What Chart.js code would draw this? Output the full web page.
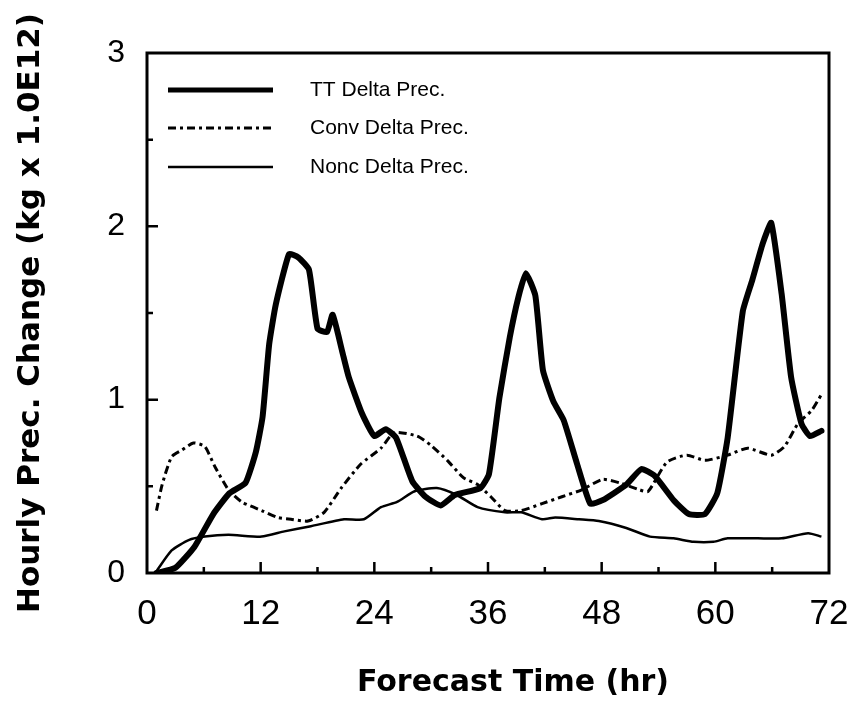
<!DOCTYPE html>
<html>
<head>
<meta charset="utf-8">
<script src="https://cdn.jsdelivr.net/npm/chart.js@4"></script>
<style>
  html, body { margin: 0; padding: 0; background: #fff; }
  canvas { display: block; }
</style>
</head>
<body>
<canvas id="c" width="854" height="702"></canvas>
<script>
// hours / values
const ttHours = [1, 3, 5, 7, 8.7, 10.4, 11.5, 12.2, 12.9, 13.6, 15, 16, 17.1, 18, 19, 19.6, 20.6, 21.3, 22.7, 24, 25.2, 26.3, 28, 29.4, 31, 32.5, 35.2, 36.1, 37.2, 38.3, 39.2, 40, 41, 41.8, 42.9, 44, 45.4, 46.8, 48.1, 50.6, 52.2, 53.6, 55.6, 57.2, 58.9, 60.2, 61.3, 62.9, 63.9, 65, 65.9, 67, 68, 69.1, 70, 71.2];
const ttValues = [0, 0.03, 0.15, 0.34, 0.46, 0.52, 0.70, 0.90, 1.32, 1.55, 1.84, 1.82, 1.75, 1.41, 1.39, 1.49, 1.28, 1.13, 0.92, 0.79, 0.83, 0.78, 0.53, 0.44, 0.39, 0.45, 0.49, 0.57, 1.01, 1.36, 1.59, 1.73, 1.60, 1.17, 0.99, 0.88, 0.63, 0.40, 0.42, 0.51, 0.60, 0.56, 0.42, 0.34, 0.34, 0.46, 0.78, 1.51, 1.69, 1.90, 2.02, 1.61, 1.13, 0.86, 0.79, 0.82];

const convHours = [1, 1.6, 2.6, 3.7, 4.9, 6.1, 7.2, 8.6, 10, 12.1, 13.8, 15.2, 17, 18.7, 20.5, 22.6, 24.7, 26.1, 28.5, 29.9, 31.7, 33.4, 34.9, 36.3, 37.8, 39.5, 41.7, 43.8, 45.9, 48.1, 49.9, 52, 52.9, 54.9, 57, 58.9, 61.3, 63.4, 65.9, 67.3, 68.7, 70.2, 71.2];
const convValues = [0.36, 0.51, 0.67, 0.71, 0.75, 0.73, 0.61, 0.48, 0.41, 0.36, 0.32, 0.31, 0.30, 0.35, 0.49, 0.63, 0.72, 0.81, 0.79, 0.74, 0.65, 0.55, 0.51, 0.44, 0.36, 0.36, 0.40, 0.44, 0.48, 0.54, 0.52, 0.48, 0.47, 0.64, 0.68, 0.65, 0.68, 0.72, 0.68, 0.73, 0.86, 0.94, 1.03];

const noncHours = [1, 2.6, 4.4, 6.1, 8.6, 12.1, 14.5, 17.3, 20.8, 22.9, 24.7, 26.4, 28.2, 30.6, 32.7, 34.9, 37.8, 39.5, 41.7, 43.1, 45.6, 47.7, 50.6, 53.1, 55.6, 57.7, 59.8, 61.3, 64.5, 67, 69.8, 71.2];
const noncValues = [0.01, 0.13, 0.19, 0.21, 0.22, 0.21, 0.24, 0.27, 0.31, 0.31, 0.38, 0.41, 0.47, 0.49, 0.45, 0.38, 0.35, 0.35, 0.31, 0.32, 0.31, 0.30, 0.26, 0.21, 0.20, 0.18, 0.18, 0.20, 0.20, 0.20, 0.23, 0.21];

const seriesNames = ['TT Delta Prec.', 'Conv Delta Prec.', 'Nonc Delta Prec.'];
const xTicks = [0, 12, 24, 36, 48, 60, 72];
const yTicks = [0, 1, 2, 3];

const FONT = '"Liberation Sans", Arial, Helvetica, sans-serif';
const TITLE_FONT = '"DejaVu Sans", Verdana, sans-serif';
const pts = (hs, vs) => hs.map((h, i) => ({ x: h, y: vs[i] }));

// frame, inward ticks, legend and x title
const decor = {
  id: 'decor',
  afterDraw(chart) {
    const ctx = chart.ctx;
    const a = chart.chartArea;
    const xs = chart.scales.x, ys = chart.scales.y;
    ctx.save();
    ctx.strokeStyle = '#000';
    ctx.lineWidth = 3;
    ctx.strokeRect(a.left, a.top, a.right - a.left, a.bottom - a.top);

    ctx.lineWidth = 2.5;
    ctx.beginPath();
    for (let h = 6; h < 72; h += 6) {
      const px = xs.getPixelForValue(h);
      const len = h % 12 === 0 ? 11 : 6;
      ctx.moveTo(px, a.bottom);
      ctx.lineTo(px, a.bottom - len);
    }
    for (let v = 0.5; v < 3; v += 0.5) {
      const py = ys.getPixelForValue(v);
      const len = v % 1 === 0 ? 11 : 6;
      ctx.moveTo(a.left, py);
      ctx.lineTo(a.left + len, py);
    }
    ctx.stroke();

    // legend
    const rows = [90, 128, 167];
    chart.data.datasets.forEach((ds, i) => {
      ctx.lineWidth = i === 0 ? 5 : ds.borderWidth;
      ctx.setLineDash(ds.borderDash || []);
      ctx.beginPath();
      ctx.moveTo(168, rows[i]);
      ctx.lineTo(273, rows[i]);
      ctx.stroke();
      ctx.setLineDash([]);
      ctx.fillStyle = '#000';
      ctx.font = '21px ' + FONT;
      ctx.textBaseline = 'middle';
      ctx.textAlign = 'left';
      ctx.fillText(ds.label, 310, rows[i]);
    });

    ctx.font = 'bold 30px ' + TITLE_FONT;
    ctx.textAlign = 'center';
    ctx.textBaseline = 'middle';
    ctx.fillText('Forecast Time (hr)', 513, 683);
    ctx.restore();
  }
};

new Chart(document.getElementById('c'), {
  type: 'line',
  data: {
    datasets: [
      { label: seriesNames[0], data: pts(ttHours, ttValues), borderColor: '#000', borderWidth: 6, pointRadius: 0, tension: 0.15, borderJoinStyle: 'round', borderCapStyle: 'round' },
      { label: seriesNames[1], data: pts(convHours, convValues), borderColor: '#000', borderWidth: 3, borderDash: [8, 4, 3, 4], pointRadius: 0, tension: 0.2 },
      { label: seriesNames[2], data: pts(noncHours, noncValues), borderColor: '#000', borderWidth: 2.5, pointRadius: 0, tension: 0.2 }
    ]
  },
  options: {
    responsive: false,
    animation: false,
    events: [],
    layout: { padding: { top: 53, right: 25, left: 0, bottom: 0 } },
    plugins: { legend: { display: false }, tooltip: { enabled: false } },
    scales: {
      x: {
        type: 'linear', min: 0, max: 72,
        afterFit: s => { s.height = 129; s.paddingLeft = 0; s.paddingRight = 0; },
        afterBuildTicks: s => { s.ticks = xTicks.map(v => ({ value: v })); },
        grid: { display: false }, border: { display: false },
        ticks: { color: '#000', padding: 12, maxRotation: 0, font: { family: FONT, size: 35 } },
        title: { display: false }
      },
      y: {
        min: 0, max: 3,
        afterFit: s => { s.width = 147; s.paddingTop = 0; s.paddingBottom = 0; },
        afterBuildTicks: s => { s.ticks = yTicks.map(v => ({ value: v })); },
        grid: { display: false }, border: { display: false },
        ticks: { color: '#000', padding: 14, font: { family: FONT, size: 32 } },
        title: {
          display: true, text: 'Hourly Prec. Change (kg x 1.0E12)', color: '#000',
          padding: { top: 12, bottom: 0 },
          font: { family: TITLE_FONT, size: 31, weight: 'bold' }
        }
      }
    }
  },
  plugins: [decor]
});
</script>
</body>
</html>
